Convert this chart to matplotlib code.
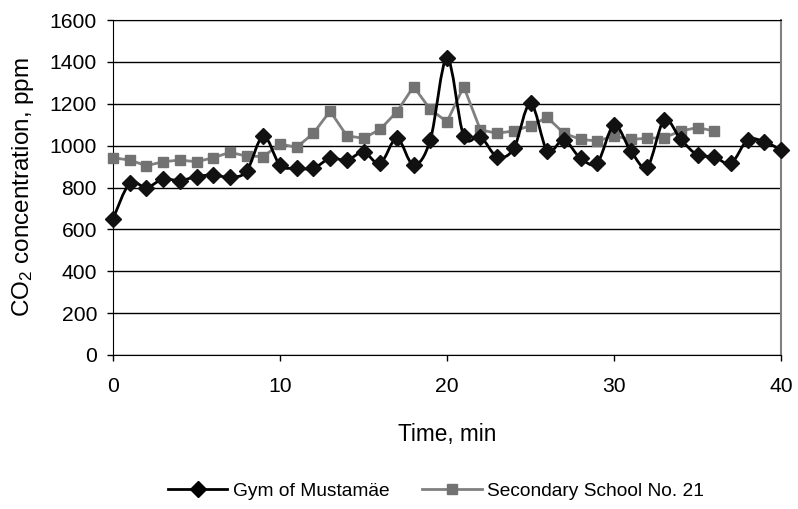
import matplotlib
matplotlib.use("Agg")
import matplotlib.pyplot as plt
from matplotlib.path import Path
from matplotlib.patches import PathPatch
from matplotlib.lines import Line2D
import numpy as np

plt.rcParams['font.family'] = ['Liberation Sans', 'DejaVu Sans']
plt.rcParams['mathtext.fontset'] = 'custom'
plt.rcParams['mathtext.rm'] = 'Liberation Sans'

# данные
minutes_gym = list(range(0, 41))
gym = [650, 820, 800, 840, 833, 852, 860, 849, 878, 1046,
       907, 892, 892, 939, 931, 968, 915, 1035, 907, 1027,
       1420, 1046, 1043, 947, 987, 1203, 976, 1027, 939, 918,
       1098, 976, 899, 1122, 1030, 955, 947, 915, 1027, 1019, 979]

minutes_school = list(range(0, 37))
school = [942, 931, 904, 923, 931, 923, 942, 968, 950, 948,
          1008, 992, 1059, 1165, 1047, 1035, 1078, 1162, 1282, 1173,
          1114, 1282, 1075, 1059, 1070, 1095, 1135, 1059, 1030, 1022,
          1046, 1030, 1035, 1038, 1070, 1086, 1070]

fig = plt.figure(figsize=(7.98, 5.09), dpi=100)
ax = fig.add_axes([113 / 798, 1 - 355 / 509, 668 / 798, 335 / 509])

# серая линия школы
ax.plot(minutes_school, school, '-', color='#808080', linewidth=2,
        marker='s', markersize=7, markerfacecolor='#727272',
        markeredgecolor='#727272', zorder=3, clip_on=False)

# сглаженная линия (как в Excel) для Mustamäe
x = np.array(minutes_gym, dtype=float)
y = np.array(gym, dtype=float)
verts = [(x[0], y[0])]
codes = [Path.MOVETO]
n = len(x)
for i in range(n - 1):
    x0, y0 = (x[i - 1], y[i - 1]) if i > 0 else (x[i], y[i])
    x3, y3 = (x[i + 2], y[i + 2]) if i + 2 < n else (x[i + 1], y[i + 1])
    c1 = (x[i] + (x[i + 1] - x0) / 6, y[i] + (y[i + 1] - y0) / 6)
    c2 = (x[i + 1] - (x3 - x[i]) / 6, y[i + 1] - (y3 - y[i]) / 6)
    verts += [c1, c2, (x[i + 1], y[i + 1])]
    codes += [Path.CURVE4] * 3
ax.add_patch(PathPatch(Path(verts, codes), facecolor='none',
                       edgecolor='black', linewidth=2, zorder=4))
ax.plot(minutes_gym, gym, linestyle='none', marker='D', markersize=8,
        color='#111111', zorder=5, clip_on=False)

ax.set_xlim(0, 40)
ax.set_ylim(0, 1600)
ax.set_xticks([0, 10, 20, 30, 40])
ax.set_yticks(range(0, 1601, 200))
ax.yaxis.grid(True, color='black', linewidth=1)
ax.set_axisbelow(True)
ax.tick_params(direction='out', length=4.5, width=1, labelsize=15.2)
ax.tick_params(axis='x', pad=11)
ax.tick_params(axis='y', pad=7)
for s in ['left', 'bottom', 'top']:
    ax.spines[s].set_color('black')
ax.spines['right'].set_color('#808080')
ax.spines['right'].set_linewidth(1.5)

ax.set_xlabel('Time, min', fontsize=16.3, labelpad=20)
ax.set_ylabel(r'CO$\mathregular{_2}$ concentration, ppm', fontsize=17.5, labelpad=10)

handles = [Line2D([], [], color='black', linewidth=2, marker='D', markersize=8),
           Line2D([], [], color='#808080', linewidth=2, marker='s', markersize=7,
                  markerfacecolor='#727272', markeredgecolor='#727272')]
fig.legend(handles, ['Gym of Mustamäe', 'Secondary School No. 21'],
           loc='center', bbox_to_anchor=(436 / 798, 1 - 491 / 509), ncol=2,
           frameon=False, fontsize=13.8, handlelength=3.1, handletextpad=0.3,
           columnspacing=1.7)

fig.savefig('out.png', dpi=100)
